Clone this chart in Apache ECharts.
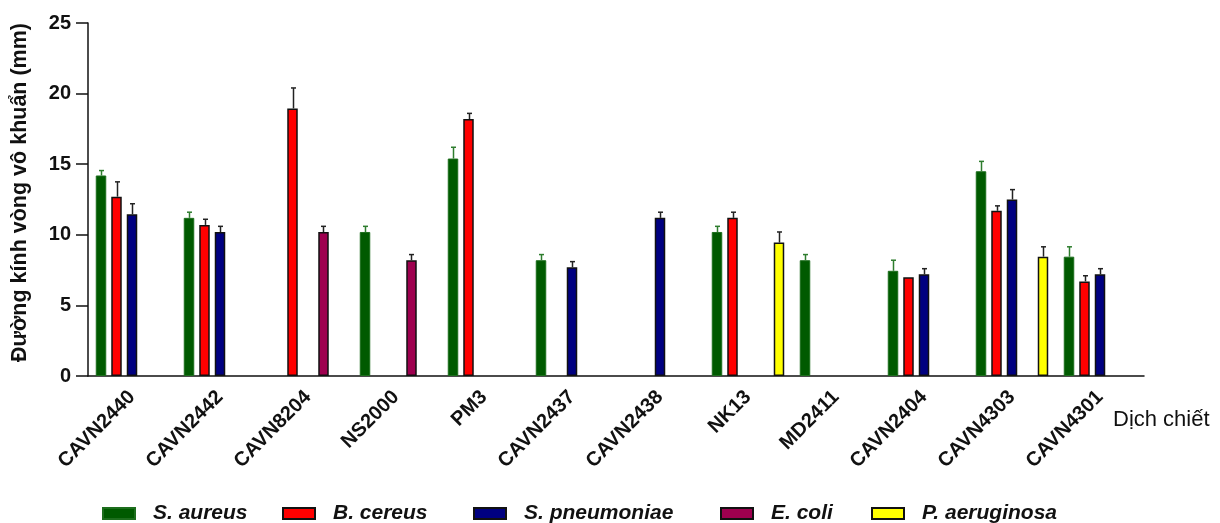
<!DOCTYPE html>
<html>
<head>
<meta charset="utf-8">
<script src="https://cdn.jsdelivr.net/npm/echarts@6/dist/echarts.min.js"></script>
<style>
html,body{margin:0;padding:0;background:#fff;}
#chart{width:1220px;height:523px;}
</style>
</head>
<body>
<div id="chart"></div>
<script>
var categories = ['CAVN2440','CAVN2442','CAVN8204','NS2000','PM3','CAVN2437','CAVN2438','NK13','MD2411','CAVN2404','CAVN4303','CAVN4301'];
var seriesNames = ['S. aureus','B. cereus','S. pneumoniae','E. coli','P. aeruginosa'];
var yTicks = [0, 5, 10, 15, 20, 25];

var sAureus      = [14.2, 11.2, null, 10.2, 15.4, 8.2, null, 10.2, 8.2, 7.45, 14.5, 8.45];
var sAureusErr   = [0.35, 0.4, null, 0.4, 0.8, 0.4, null, 0.4, 0.4, 0.75, 0.7, 0.7];
var bCereus      = [12.7, 10.7, 18.95, null, 18.2, null, null, 11.2, null, 7.0, 11.7, 6.7];
var bCereusErr   = [1.05, 0.4, 1.45, null, 0.4, null, null, 0.4, null, 0, 0.35, 0.4];
var sPneumoniae    = [11.45, 10.2, null, null, null, 7.7, 11.2, null, null, 7.2, 12.5, 7.2];
var sPneumoniaeErr = [0.75, 0.4, null, null, null, 0.4, 0.4, null, null, 0.4, 0.7, 0.4];
var eColi        = [null, null, 10.2, 8.2, null, null, null, null, null, null, null, null];
var eColiErr     = [null, null, 0.4, 0.4, null, null, null, null, null, null, null, null];
var pAeruginosa    = [null, null, null, null, null, null, null, 9.45, null, null, 8.45, null];
var pAeruginosaErr = [null, null, null, null, null, null, null, 0.75, null, null, 0.7, null];

var values = [sAureus, bCereus, sPneumoniae, eColi, pAeruginosa];
var errors = [sAureusErr, bCereusErr, sPneumoniaeErr, eColiErr, pAeruginosaErr];
var fills = ['#005a00', '#ff0000', '#000080', '#9e004f', '#ffff00'];
var borders = ['#1d6e1d', '#111111', '#111111', '#111111', '#111111'];
var errColors = ['#2e7d2e', '#222222', '#222222', '#222222', '#222222'];
var legendLefts = [102, 282, 473, 720, 871];

var BAR_W = 10.5, BAR_GAP = 0.476;
var FONT = '"Liberation Sans", Arial, sans-serif';

var series = [];
values.forEach(function (vals, i) {
  series.push({
    name: seriesNames[i],
    type: 'bar',
    data: vals,
    barWidth: BAR_W,
    barGap: (BAR_GAP * 100) + '%',
    itemStyle: { color: fills[i], borderColor: borders[i], borderWidth: i === 0 ? 1 : 1.5 },
    emphasis: { disabled: true },
    z: 2
  });
});
values.forEach(function (vals, i) {
  var n = values.length;
  var step = BAR_W * (1 + BAR_GAP);
  var off = (i - (n - 1) / 2) * step;
  var data = vals.map(function (v, k) {
    return [k, v, errors[i][k]];
  });
  series.push({
    name: 'err' + i,
    type: 'custom',
    z: 3,
    silent: true,
    data: data,
    encode: { x: 0, y: 1 },
    renderItem: function (params, api) {
      var v = api.value(1), e = api.value(2);
      if (v == null || isNaN(v) || e == null || isNaN(e) || e <= 0) return;
      var base = api.coord([api.value(0), v]);
      var top = api.coord([api.value(0), v + e]);
      var x = Math.round(base[0] + off) + 0.5;
      var style = { stroke: errColors[i], lineWidth: 1.5 };
      return {
        type: 'group',
        children: [
          { type: 'line', shape: { x1: x, y1: base[1], x2: x, y2: top[1] }, style: style },
          { type: 'line', shape: { x1: x - 2.5, y1: top[1], x2: x + 2.5, y2: top[1] }, style: style }
        ]
      };
    }
  });
});

var legends = seriesNames.map(function (nm, i) {
  return {
    data: [nm],
    left: legendLefts[i],
    top: 503,
    padding: 0,
    itemWidth: 32,
    itemHeight: 11,
    icon: 'rect',
    selectedMode: false,
    textStyle: { fontFamily: FONT, fontSize: 21, fontWeight: 'bold', fontStyle: 'italic', color: '#111', padding: [0, 0, 0, 13] }
  };
});

var chart = echarts.init(document.getElementById('chart'), null, { renderer: 'canvas' });
chart.setOption({
  animation: false,
  backgroundColor: '#ffffff',
  textStyle: { fontFamily: FONT },
  grid: { left: 88, right: 76, top: 23, bottom: 147, containLabel: false },
  legend: legends,
  xAxis: {
    type: 'category',
    data: categories,
    name: 'Dịch chiết',
    nameLocation: 'end',
    nameGap: -31,
    nameTextStyle: { fontFamily: FONT, fontSize: 22, color: '#111', align: 'left', verticalAlign: 'top', padding: [33, 0, 0, 0] },
    axisLine: { lineStyle: { color: '#111', width: 1.5 } },
    axisTick: { alignWithLabel: true, length: 12, lineStyle: { color: '#111', width: 1.5 } },
    axisLabel: { rotate: 45, margin: 18, fontFamily: FONT, fontSize: 20, fontWeight: 'bold', color: '#111' },
    splitLine: { show: false }
  },
  yAxis: {
    type: 'value',
    min: yTicks[0],
    max: yTicks[yTicks.length - 1],
    interval: yTicks[1] - yTicks[0],
    name: 'Đường kính vòng vô khuẩn (mm)',
    nameLocation: 'middle',
    nameGap: 57,
    nameTextStyle: { fontFamily: FONT, fontSize: 21.5, fontWeight: 'bold', color: '#111', padding: [0, 0, 0, 14] },
    axisLine: { show: true, lineStyle: { color: '#111', width: 1.5 } },
    axisTick: { show: true, length: 12, lineStyle: { color: '#111', width: 1.5 } },
    axisLabel: { margin: 17, fontFamily: FONT, fontSize: 20, fontWeight: 'bold', color: '#111' },
    splitLine: { show: false }
  },
  series: series
});
</script>
</body>
</html>
